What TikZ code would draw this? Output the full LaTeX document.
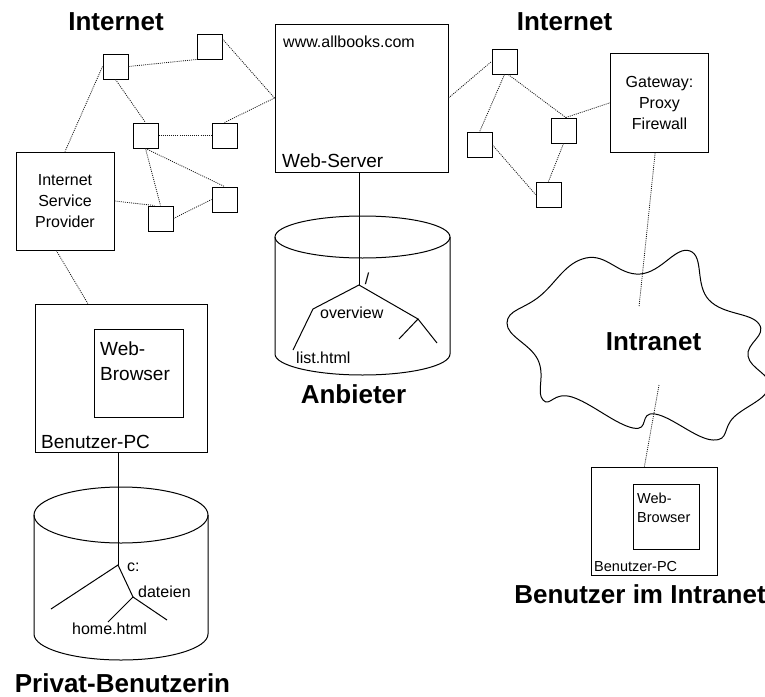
\documentclass[tikz,border=0pt]{standalone}
\usepackage{fontspec}
\setmainfont{Liberation Sans}
\begin{document}
\begin{tikzpicture}[x=1pt,y=-1pt,
  box/.style={draw, line width=1pt, inner sep=0pt},
  router/.style={box, minimum width=25pt, minimum height=25pt},
  link/.style={line width=0.8pt, black!90, dash pattern=on 1pt off 1.1pt},
  wire/.style={line width=1pt},
  title/.style={font=\fontsize{26}{30}\selectfont\bfseries, inner sep=0pt},
  small/.style={font=\fontsize{16}{20.8}\selectfont, inner sep=0pt},
  mid/.style={font=\fontsize{19}{24}\selectfont, inner sep=0pt},
  tiny/.style={font=\fontsize{14.5}{18}\selectfont, inner sep=0pt}]

\fill[white] (0,0) rectangle (765,696);
\useasboundingbox (0,0) rectangle (765,696);

% ---------- titles ----------
\node[title, anchor=base] (t1) at (116,30) {Internet};
\node[title, anchor=base] (t2) at (564.5,30) {Internet};
\node[title, anchor=base] (t3) at (353.5,403) {Anbieter};
\node[title, anchor=base] (t4) at (640,603) {Benutzer im Intranet};
\node[title, anchor=base] (t5) at (122.5,692) {Privat-Benutzerin};

% ---------- routers ----------
\node[router] (A) at (115.5,66.5) {};
\node[router] (B) at (209.5,46.5) {};
\node[router] (C) at (145.5,135.5) {};
\node[router] (D) at (224.5,135.5) {};
\node[router] (E) at (224.5,199.5) {};
\node[router] (F) at (160.5,218.5) {};
\node[router] (G) at (504.5,61.5) {};
\node[router] (H) at (563.5,130.5) {};
\node[router] (I) at (479.5,145) {};
\node[router] (J) at (548.5,194.5) {};

% ---------- main boxes ----------
\node[box, small, align=center, minimum width=98pt, minimum height=98pt] (isp) at (65,201)
  {Internet\\Service\\Provider};
\node[box, small, align=center, minimum width=98pt, minimum height=98.5pt] (gw) at (659.5,102.8)
  {Gateway:\\Proxy\\Firewall};
\node[box, minimum width=173pt, minimum height=148pt] (srv) at (361.5,98) {};
\node[small, anchor=base west] (srvname) at (283,47) {www.allbooks.com};
\node[mid, anchor=base west] (srvlbl) at (282,167) {Web-Server};

\node[box, minimum width=172pt, minimum height=148pt] (pc) at (121,378) {};
\node[box, minimum width=89pt, minimum height=88pt] (br) at (138.5,373) {};
\node[mid, anchor=base west] (br1) at (100,355) {Web-};
\node[mid, anchor=base west] (br2) at (100,380) {Browser};
\node[mid, anchor=base west] (pclbl) at (41,448) {Benutzer-PC};

\node[box, minimum width=126pt, minimum height=108pt] (rpc) at (654,521) {};
\node[box, minimum width=66pt, minimum height=65pt] (rbr) at (666,516.5) {};
\node[tiny, anchor=base west] (rbr1) at (637,503) {Web-};
\node[tiny, anchor=base west] (rbr2) at (637,522) {Browser};
\node[tiny, anchor=base west] (rpclbl) at (594,571) {Benutzer-PC};

% ---------- intranet cloud (lobes alternate outward / inward) ----------
\begin{scope}
\clip (0,0) rectangle (765,696);
\draw[wire] plot[smooth cycle, tension=0.75] coordinates {
  (507,323) (540,296) (586,258) (640,274) (690,251) (709,300)
  (759,324) (748,356) (769,387) (734,417) (713,440) (655,414)
  (633,428) (572,397) (543,400) (538,360)};
\end{scope}
\node[title, anchor=base] (intra) at (653.5,350) {Intranet};

% ---------- server storage ----------
\draw[wire] (362.5,237) ellipse[x radius=87.5, y radius=21];
\draw[wire] (275,237) -- (275,354) arc[start angle=180, end angle=0, x radius=87.5, y radius=21] -- (450,237);
\coordinate (sroot) at (359,285);
\coordinate (s1) at (313,309);
\coordinate (s2) at (293,350);
\coordinate (s3) at (418,319);
\coordinate (s4) at (399,339);
\coordinate (s5) at (437,343);
\draw[wire] (srv.south -| sroot) -- (sroot);
\draw[wire] (s2) -- (s1) -- (sroot) -- (s3) -- (s4);
\draw[wire] (s3) -- (s5);
\node[small] (slash) at (367,279) {/};
\node[small, anchor=base west] (ov) at (320,318) {overview};
\node[small, anchor=base west] (lh) at (296,363) {list.html};

% ---------- private storage ----------
\draw[wire] (121,515) ellipse[x radius=87, y radius=28];
\draw[wire] (34,515) -- (34,634) arc[start angle=180, end angle=0, x radius=87, y radius=26] -- (208,515);
\coordinate (proot) at (118,565);
\coordinate (p1) at (51,609);
\coordinate (p2) at (133,597);
\coordinate (p3) at (108,622);
\coordinate (p4) at (167,620);
\draw[wire] (pc.south -| proot) -- (proot);
\draw[wire] (p1) -- (proot) -- (p2) -- (p3);
\draw[wire] (p2) -- (p4);
\node[small, anchor=base west] (cdrv) at (127,571) {c:};
\node[small, anchor=base west] (dat) at (138,597) {dateien};
\node[small, anchor=base west] (home) at (72,634) {home.html};

% ---------- network links ----------
\draw[link] (A.east) -- (B.south west);
\draw[link] (B.30) -- (srv.west);
\draw[link] (D.north) -- (srv.west);
\draw[link] (A.south) -- (C.north);
\draw[link] (C.east) -- (D.west);
\draw[link] (C.south) -- (E.north);
\draw[link] (C.south) -- (F.north);
\draw[link] (F.east) -- (E.west);
\draw[link] (isp.east) -- (F.115);
\draw[link] (A.west) -- (isp.north);
\draw[link] (isp.-100) -- (pc.114);
\draw[link] (srv.east) -- (G.west);
\draw[link] (G.south) -- (I.north);
\draw[link] (G.-74) -- (H.80);
\draw[link] (H.80) -- (gw.west);
\draw[link] (I.east) -- (J.west);
\draw[link] (H.south) -- (J.north);
\coordinate (cin) at (639,307);
\coordinate (cout) at (659,385);
\draw[link] (gw.-95) -- (cin);
\draw[link] (cout) -- (rpc.100);
\end{tikzpicture}
\end{document}
